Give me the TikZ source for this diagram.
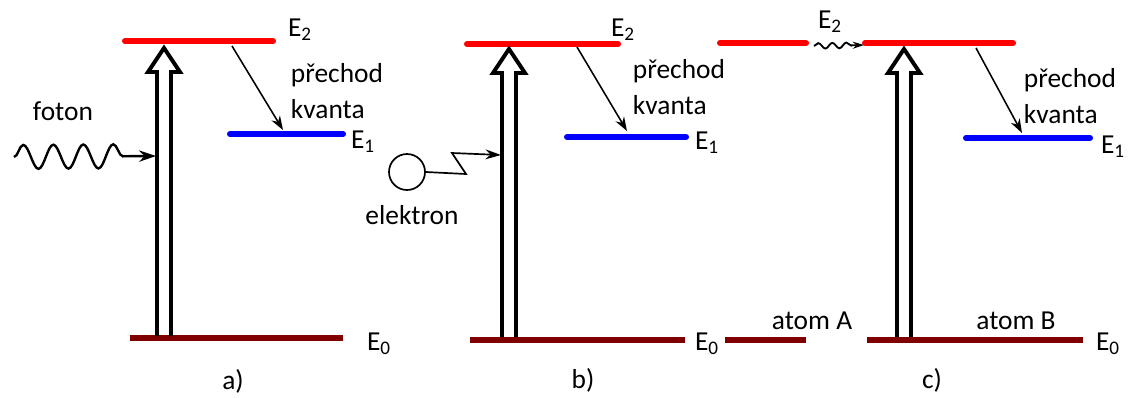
\documentclass[tikz,border=0pt]{standalone}
\usepackage{fontspec}
\setmainfont{Carlito}
\usetikzlibrary{arrows.meta, decorations.pathmorphing}

\definecolor{levelred}{RGB}{255,0,0}
\definecolor{levelblue}{RGB}{0,0,255}
\definecolor{groundred}{RGB}{128,0,0}

\tikzset{
    upper/.style={levelred, line width=4.3pt, line cap=round},
    middle/.style={levelblue, line width=4.3pt, line cap=round},
    ground/.style={groundred, line width=3.6pt},
    jump/.style={-{Stealth[length=10pt, width=7pt]}, line width=1.1pt},
    photon/.style={decorate, decoration={snake, amplitude=0.3cm, segment length=0.75cm, post length=0.6cm}, -{Stealth[length=12pt, width=8pt]}, line width=1.7pt},
    smallphoton/.style={decorate, decoration={snake, amplitude=0.07cm, segment length=0.35cm, post length=0.3cm}, -{Stealth[length=8pt, width=5pt]}, line width=1.3pt},
    pump/.pic={\draw[line width=2.8pt, line join=miter] (-7,0) -- (-7,-264) -- (-16,-264) -- (0,-288) -- (16,-264) -- (7,-264) -- (7,0);}
}

\begin{document}
\begin{tikzpicture}[x=0.025cm, y=-0.025cm, font=\fontsize{19.5}{23}\selectfont]
    \useasboundingbox (0,0) rectangle (1139,397);

    % Panel a) - photon
    \draw[upper] (125,41) -- (273,41);
    \draw[middle] (230,134) -- (343,134);
    \draw[ground] (130,338) -- (343,338);
    \node (aE2) at (300,30) {E\textsubscript{2}};
    \node (aE1) at (363,142) {E\textsubscript{1}};
    \node (aE0) at (379,344) {E\textsubscript{0}};
    \node[align=left] (aTr) at (337,91) {přechod\\[3pt]kvanta};
    \node (aCap) at (233,381) {a)};
    \pic at (164,336) {pump};
    \coordinate (aTop) at (232,46);
    \coordinate (aMid) at (283,130);
    \draw[jump] (aTop) -- (aMid);
    \node (foton) at (63,111) {foton};
    \coordinate (aSrc) at (14,157);
    \coordinate (aIn) at (156,156);
    \draw[photon] (aSrc) -- (aIn);

    % Panel b) - electron
    \draw[upper] (467,44) -- (618,44);
    \draw[middle] (567,137) -- (686,137);
    \draw[ground] (470,340) -- (685,340);
    \node (bE2) at (623,30) {E\textsubscript{2}};
    \node (bE1) at (707,143) {E\textsubscript{1}};
    \node (bE0) at (707,344) {E\textsubscript{0}};
    \node[align=left] (bTr) at (679,87) {přechod\\[3pt]kvanta};
    \node (bCap) at (583,380) {b)};
    \pic at (509,337) {pump};
    \coordinate (bTop) at (577,47);
    \coordinate (bMid) at (627,131);
    \draw[jump] (bTop) -- (bMid);
    \node[draw, circle, line width=1.2pt, minimum size=0.9cm] (elec) at (407,172) {};
    \node (elektron) at (412,215) {elektron};
    \coordinate (bIn) at (501,155);
    \draw[-{Stealth[length=11pt, width=7pt]}, line width=1.2pt] (elec.east) -- (466,174) -- (452,153) -- (bIn);

    % Panel c) - atom A to atom B
    \draw[upper] (720,43) -- (806,43);
    \draw[upper] (865,43) -- (1013,43);
    \draw[middle] (966,138) -- (1090,138);
    \draw[ground] (725,340) -- (806,340);
    \draw[ground] (867,340) -- (1083,340);
    \node (cE2) at (830,22) {E\textsubscript{2}};
    \node (cE1) at (1113,147) {E\textsubscript{1}};
    \node (cE0) at (1108,344) {E\textsubscript{0}};
    \node (atomA) at (812,321) {atom A};
    \node (atomB) at (1016,321) {atom B};
    \node[align=left] (cTr) at (1070,96) {přechod\\[3pt]kvanta};
    \node (cCap) at (932,380) {c)};
    \pic at (904,337) {pump};
    \coordinate (cTop) at (976,48);
    \coordinate (cMid) at (1022,133);
    \draw[jump] (cTop) -- (cMid);
    \coordinate (cSrc) at (814,46);
    \coordinate (cIn) at (864,45);
    \draw[smallphoton] (cSrc) -- (cIn);
\end{tikzpicture}
\end{document}
